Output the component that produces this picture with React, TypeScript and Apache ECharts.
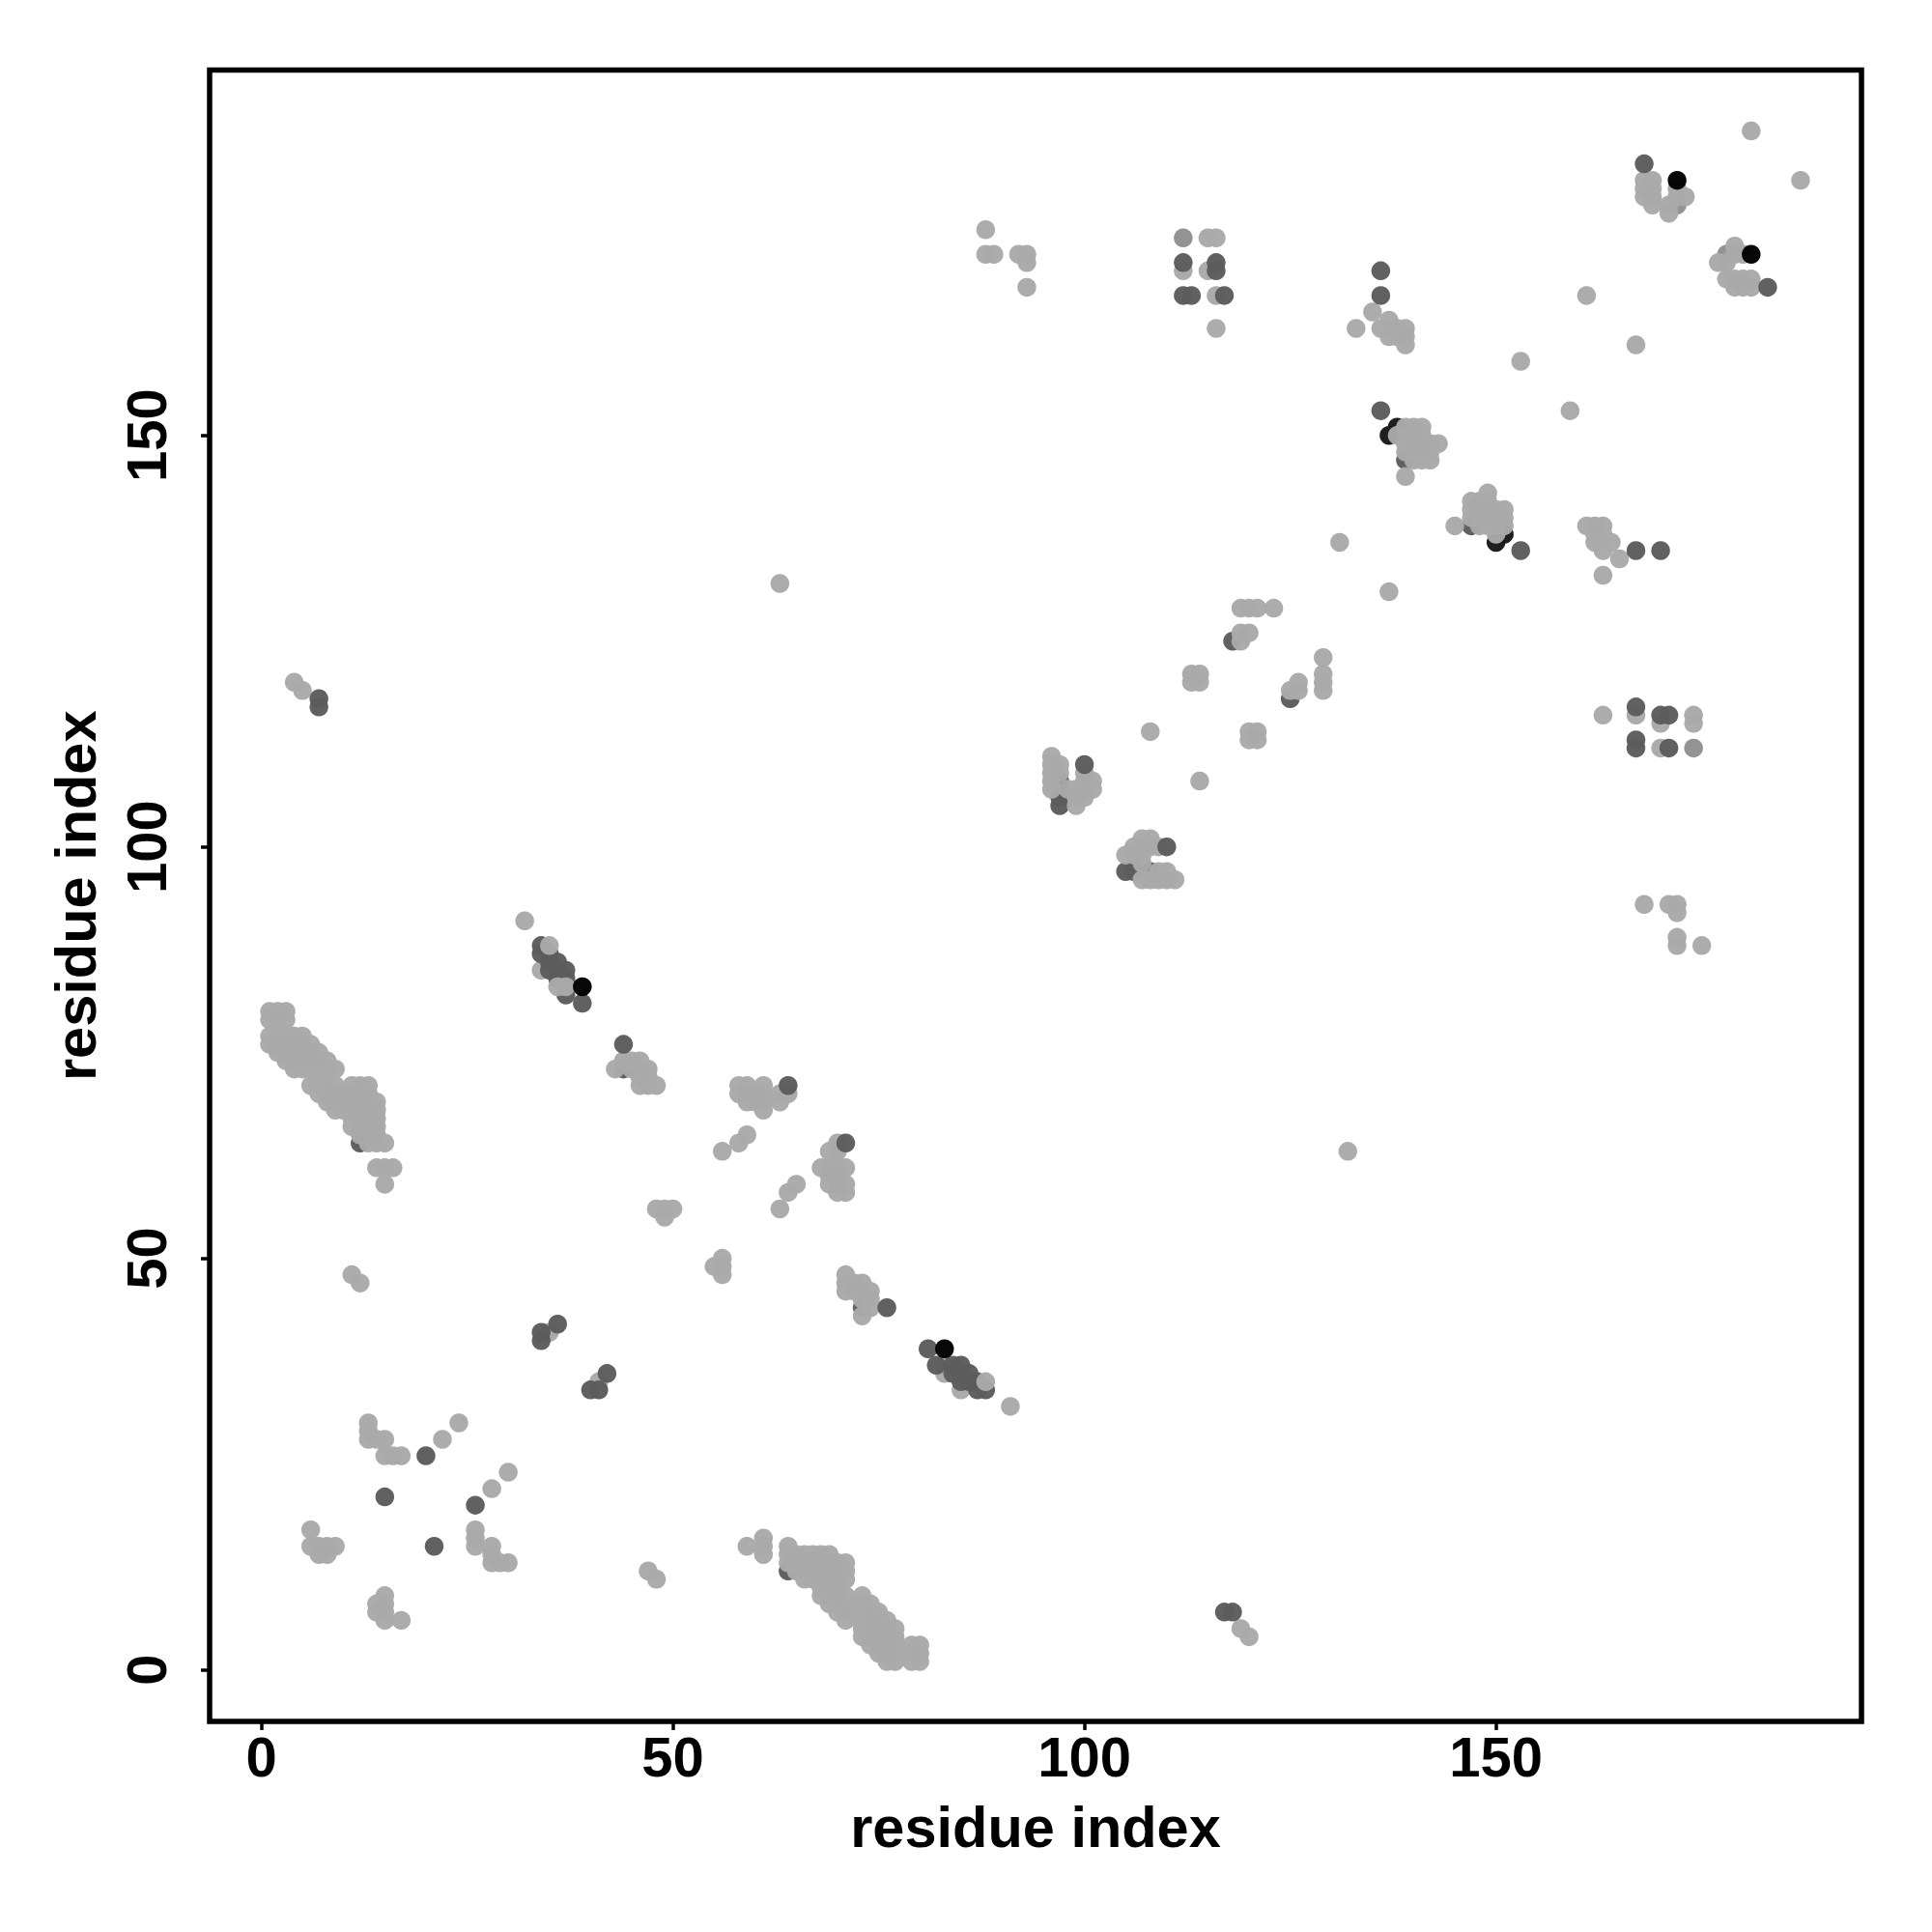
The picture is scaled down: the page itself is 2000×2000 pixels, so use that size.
import React, { useEffect, useRef } from "react";
import * as echarts from "echarts";

type P = number[];

const tickValues = [0, 50, 100, 150];
const axisTitle = "residue index";

const lightBase: P[] = [[34,85],[85,34],[83,36],[83,37]];
const blackUnder: P[] = [[137,150],[138,151],[150,137],[151,138]];
const midUnder: P[] = [[172,178],[178,172],[112,174],[174,112]];
const darkUnder: P[] = [
  [12,64],[64,12],[44,73],[73,44],[97,108],[97,106],[97,105],[108,97],[106,97],[105,97],
  [34,88],[34,87],[35,87],[35,86],[35,85],[36,86],[36,85],[36,84],[37,85],[37,84],[37,82],
  [88,34],[87,34],[87,35],[86,35],[85,35],[86,36],[85,36],[84,36],[85,37],[84,37],[82,37],
  [139,147],[147,139],[118,125],[125,118],
];
const lightClusterUpper: P[] = [
  [1,80],[2,80],[3,80],[1,79],[2,79],[3,79],
  [1,77],[2,77],[3,77],[4,77],[5,77],
  [1,76],[2,76],[3,76],[4,76],[5,76],[6,76],
  [2,75],[3,75],[4,75],[5,75],[6,75],[7,75],
  [3,74],[4,74],[5,74],[6,74],[7,74],[8,74],
  [4,73],[5,73],[6,73],[7,73],[8,73],[9,73],
  [6,71],[7,71],[8,71],[9,71],[11,71],[12,71],[13,71],
  [7,70],[8,70],[9,70],[10,70],[11,70],[12,70],[13,70],
  [8,69],[9,69],[10,69],[11,69],[12,69],[13,69],[14,69],
  [9,68],[10,68],[11,68],[12,68],[13,68],[14,68],
  [11,67],[12,67],[13,67],[14,67],
  [11,66],[12,66],[13,66],[14,66],
  [12,65],[13,65],[14,65],
  [13,64],[14,64],[15,64],
  [14,61],[15,61],[16,61],[15,59],
];
const lightClusterLower: P[] = [
  [80,1],[80,2],[80,3],[79,1],[79,2],[79,3],
  [77,1],[77,2],[77,3],[77,4],[77,5],
  [76,1],[76,2],[76,3],[76,4],[76,5],[76,6],
  [75,2],[75,3],[75,4],[75,5],[75,6],[75,7],
  [74,3],[74,4],[74,5],[74,6],[74,7],[74,8],
  [73,4],[73,5],[73,6],[73,7],[73,8],[73,9],
  [71,6],[71,7],[71,8],[71,9],[71,11],[71,12],[71,13],
  [70,7],[70,8],[70,9],[70,10],[70,11],[70,12],[70,13],
  [69,8],[69,9],[69,10],[69,11],[69,12],[69,13],[69,14],
  [68,9],[68,10],[68,11],[68,12],[68,13],[68,14],
  [67,11],[67,12],[67,13],[67,14],
  [66,11],[66,12],[66,13],[66,14],
  [65,12],[65,13],[65,14],
  [64,13],[64,14],[64,15],
  [61,14],[61,15],[61,16],[59,15],
];
const lightSmallContacts: P[] = [
  [4,120],[5,119],[120,4],[119,5],[63,132],[132,63],
  [13,30],[13,29],[13,28],[14,28],[15,28],[15,26],[16,26],[17,26],[22,28],[24,30],
  [30,13],[29,13],[28,13],[28,14],[28,15],[26,15],[26,16],[26,17],[28,22],[30,24],
  [6,17],[6,15],[7,15],[7,14],[8,15],[8,14],[9,15],
  [17,6],[15,6],[15,7],[14,7],[15,8],[14,8],[15,9],
  [11,48],[12,47],[47,12],[48,11],[32,91],[91,32],
  [35,88],[88,35],[36,83],[37,83],[35,41],[41,35],
];
const lightMiddleUpper: P[] = [
  [44,74],[45,74],[46,74],[43,73],[45,73],[46,73],[47,73],[46,72],[47,72],[46,71],[47,71],[48,71],
  [56,63],[58,64],[59,65],[48,56],[49,56],[50,56],[49,55],
  [58,71],[59,71],[61,71],[58,70],[59,70],[60,70],[61,70],[63,70],[64,70],[59,69],[60,69],[61,69],[63,69],[61,68],
];
const lightMiddleLower: P[] = [
  [74,44],[74,45],[74,46],[73,43],[73,45],[73,46],[73,47],[72,46],[72,47],[71,46],[71,47],[71,48],
  [63,56],[64,58],[65,59],[56,48],[56,49],[56,50],[55,49],
  [71,58],[71,59],[71,61],[70,58],[70,59],[70,60],[70,61],[70,63],[70,64],[69,59],[69,60],[69,61],[69,63],[68,61],
];
const lightHelixUpper: P[] = [
  [96,111],[96,110],[96,109],[96,108],[96,107],[97,110],[97,109],[98,107],[99,107],[99,106],[99,105],
  [100,109],[100,108],[100,107],[100,106],[101,108],[101,107],[108,114],
  [115,174],[116,174],[112,170],[115,170],[116,167],[116,163],
  [88,175],[88,172],[89,172],[92,172],[93,172],[93,171],[93,168],
  [119,125],[119,126],[120,126],[119,129],[120,129],[121,129],[123,129],
  [113,121],[114,121],[113,120],[114,120],[131,137],
  [133,163],[135,165],[136,163],[137,164],[137,162],[138,163],[139,163],[139,162],[139,161],[138,162],
];
const lightHelixLower: P[] = [
  [111,96],[110,96],[109,96],[108,96],[107,96],[110,97],[109,97],[107,98],[107,99],[106,99],[105,99],
  [109,100],[108,100],[107,100],[106,100],[108,101],[107,101],[114,108],
  [174,115],[174,116],[170,112],[170,115],[167,116],[163,116],
  [175,88],[172,88],[172,89],[172,92],[172,93],[171,93],[168,93],
  [125,119],[126,119],[126,120],[129,119],[129,120],[129,121],[129,123],
  [120,113],[120,114],[121,113],[121,114],[137,131],
  [163,133],[165,135],[163,136],[164,137],[162,137],[163,138],[163,139],[162,139],[161,139],[162,138],
];
const lightTopUpper: P[] = [
  [138,150],[139,151],[139,150],[139,149],[139,148],[140,151],[140,150],[140,149],[140,148],[140,147],
  [141,151],[141,150],[141,149],[141,148],[141,147],[142,149],[142,148],[142,147],[143,149],[139,145],
  [153,159],[161,167],
  [168,181],[169,181],[168,180],[169,180],[168,179],[169,179],[169,178],[171,177],[171,178],[172,179],[173,179],[172,180],
  [181,187],
];
const lightTopLower: P[] = [
  [150,138],[151,139],[150,139],[149,139],[148,139],[151,140],[150,140],[149,140],[148,140],[147,140],
  [151,141],[150,141],[149,141],[148,141],[147,141],[149,142],[148,142],[147,142],[149,143],[145,139],
  [159,153],[167,161],
  [181,168],[181,169],[180,168],[180,169],[179,168],[179,169],[178,169],[177,171],[178,171],[179,172],[179,173],[180,172],
  [187,181],
];
const darkTop: P[] = [
  [20,26],[26,20],[15,21],[21,15],[7,118],[7,117],[117,7],[118,7],
  [34,40],[34,41],[40,34],[41,34],[36,42],[42,36],[44,76],[76,44],[64,71],[71,64],
  [100,110],[110,100],[39,81],[81,39],
  [112,171],[116,171],[116,170],[112,167],[113,167],[117,167],
  [171,112],[171,116],[170,116],[167,112],[167,113],[167,117],
  [136,170],[136,167],[170,136],[167,136],[136,153],[153,136],[168,183],[183,168],
];
const blackTop: P[] = [[39,83],[83,39],[172,181],[181,172]];

const lightPoints = [
  ...lightClusterUpper, ...lightClusterLower, ...lightSmallContacts,
  ...lightMiddleUpper, ...lightMiddleLower, ...lightHelixUpper, ...lightHelixLower,
  ...lightTopUpper, ...lightTopLower,
];

const FONT = "Liberation Sans";
const scatter = (data: P[], color: string, opacity = 0.97) => ({
  type: "scatter",
  data,
  symbol: "circle",
  symbolSize: 19.5,
  silent: true,
  itemStyle: { color, opacity, borderWidth: 0 },
});

const axis = (rotate: number, nameGap: number, labelMargin: number, nameRotate: number) => ({
  type: "value",
  min: -6.28,
  max: 194.4,
  name: axisTitle,
  nameLocation: "middle",
  nameGap,
  nameRotate,
  nameMoveOverlap: false,
  nameTextStyle: { fontFamily: FONT, fontWeight: "bold", fontSize: 59.5, color: "#000" },
  splitLine: { show: false },
  axisLine: { show: false, onZero: false },
  axisTick: { show: true, length: 9, lineStyle: { color: "#000", width: 3.5 }, customValues: tickValues },
  axisLabel: {
    show: true,
    rotate,
    margin: labelMargin,
    fontFamily: FONT,
    fontWeight: "bold",
    fontSize: 58,
    color: "#000",
    customValues: tickValues,
    formatter: (v: number) => String(v),
  },
});

export default function App() {
  const ref = useRef<HTMLDivElement>(null);
  useEffect(() => {
    if (!ref.current) return;
    const chart = echarts.init(ref.current, undefined, { renderer: "svg" });
    chart.setOption({
      animation: false,
      backgroundColor: "#fff",
      grid: {
        left: 217,
        top: 72.5,
        width: 1710,
        height: 1709.5,
        show: true,
        borderColor: "#000",
        borderWidth: 5.5,
        backgroundColor: "transparent",
      },
      xAxis: axis(0, 79, 7, 0),
      yAxis: axis(90, 109, 37, 90),
      series: [
        scatter(lightBase, "#a9a9a9"),
        scatter(blackUnder, "#181818"),
        scatter(midUnder, "#8f8f8f"),
        scatter(darkUnder, "#5c5c5c"),
        scatter(lightPoints, "#a9a9a9"),
        scatter(darkTop, "#5c5c5c"),
        scatter(blackTop, "#000000"),
      ],
    });
    return () => chart.dispose();
  }, []);
  return <div ref={ref} style={{ position: "absolute", left: 0, top: 0, width: 2000, height: 2000 }} />;
}
